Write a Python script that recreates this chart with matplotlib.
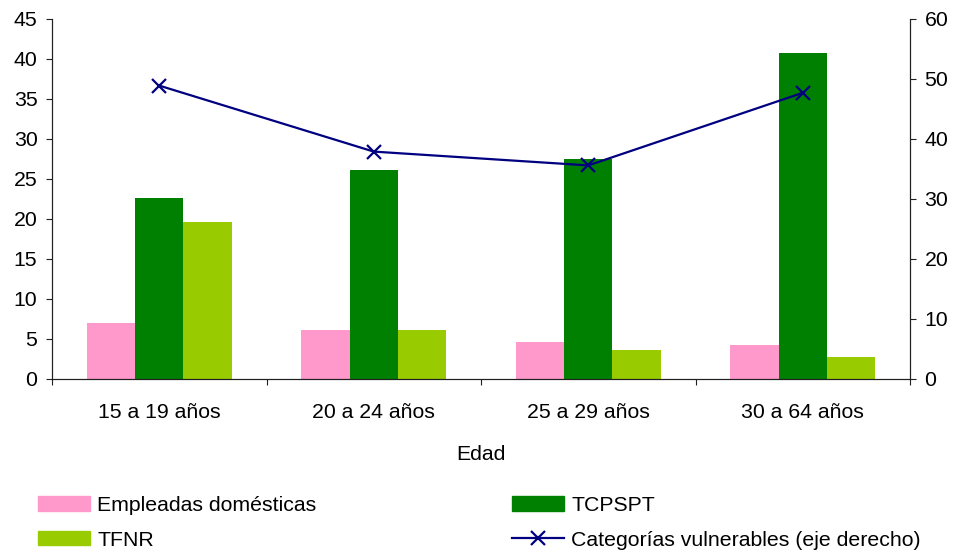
import matplotlib.pyplot as plt
import matplotlib.lines as mlines
import matplotlib.patches as mpatches
import numpy as np

plt.rcParams['font.family'] = ['Liberation Sans', 'DejaVu Sans']

edades = ['15 a 19 años', '20 a 24 años', '25 a 29 años', '30 a 64 años']
empleadas = [7.0, 6.1, 4.6, 4.3]
tcpspt = [22.6, 26.1, 27.5, 40.8]
tfnr = [19.6, 6.1, 3.6, 2.8]
vulnerables = [48.9, 37.9, 35.6, 47.7]

fs = 15.3
fig = plt.figure(figsize=(9.58, 5.56), dpi=100)
ax = fig.add_axes([52 / 958, 1 - 379 / 556, (910 - 52) / 958, 360 / 556])
ax2 = ax.twinx()

x = np.arange(len(edades))
w = 0.225
ax.bar(x - w, empleadas, w, color='#FF99CC', edgecolor='none')
ax.bar(x, tcpspt, w, color='#008000', edgecolor='none')
ax.bar(x + w, tfnr, w, color='#99CC00', edgecolor='none')
ax2.plot(x, vulnerables, color='#000080', marker='x', markersize=10, markeredgewidth=1.6, lw=1.6)

ax.set_xlim(-0.5, len(edades) - 0.5)
ax.set_ylim(0, 45)
ax.set_yticks(range(0, 46, 5))
ax2.set_ylim(0, 60)
ax2.set_yticks(range(0, 61, 10))

ax.set_xticks(np.arange(-0.5, len(edades), 1))
ax.set_xticklabels([])
ax.set_xticks(x, minor=True)
ax.set_xticklabels(edades, minor=True)
ax.tick_params(axis='x', which='minor', length=0, pad=17.5, labelsize=fs)
ax.tick_params(axis='x', which='major', length=4.5, color='#202020')
ax.tick_params(axis='y', labelsize=fs, length=4.5, pad=6, color='#202020')
ax2.tick_params(axis='y', labelsize=fs, length=4.5, pad=6, color='#202020')
ax.set_xlabel('Edad', fontsize=fs, labelpad=16)

for a in (ax, ax2):
    a.spines['top'].set_visible(False)
    for s in ('left', 'right', 'bottom'):
        a.spines[s].set_color('#202020')

h1 = mpatches.Patch(color='#FF99CC', label='Empleadas domésticas')
h2 = mpatches.Patch(color='#99CC00', label='TFNR')
h3 = mpatches.Patch(color='#008000', label='TCPSPT')
h4 = mlines.Line2D([], [], color='#000080', marker='x', markersize=10, markeredgewidth=1.6, lw=1.6,
                   label='Categorías vulnerables (eje derecho)')
kw = dict(loc='upper left', frameon=False, fontsize=fs, handlelength=2.45, handleheight=0.66,
          labelspacing=0.73, handletextpad=0.33, borderpad=0, borderaxespad=0)
fig.legend(handles=[h1, h2], bbox_to_anchor=(38 / 958, 1 - 496 / 556), **kw)
fig.legend(handles=[h3, h4], bbox_to_anchor=(512 / 958, 1 - 496 / 556), **kw)

fig.savefig('out.png', dpi=100)
